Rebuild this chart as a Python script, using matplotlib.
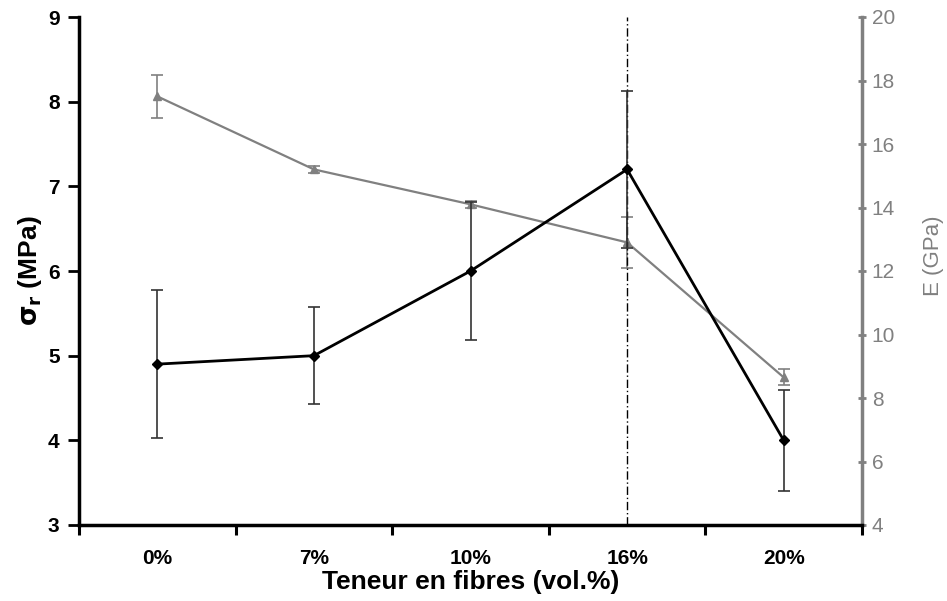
import matplotlib
matplotlib.use("Agg")
import matplotlib.pyplot as plt
import numpy as np

categories = ["0%", "7%", "10%", "16%", "20%"]
sigma = [4.9, 5.0, 6.0, 7.2, 4.0]
sigma_err = [0.87, 0.57, 0.81, 0.93, 0.6]
E = [17.5, 15.2, 14.1, 12.9, 8.65]
E_err = [0.68, 0.1, 0.1, 0.8, 0.25]
vline_cat = 3

plt.rcParams['font.family'] = ['Liberation Sans', 'DejaVu Sans']
gray = '#808080'

fig = plt.figure(figsize=(9.47, 6.01), dpi=100)
ax = fig.add_axes([79/947, 76/601, (862-79)/947, (525-17)/601])
ax2 = ax.twinx()

x = np.arange(len(categories))

ax.axvline(vline_cat, color='black', lw=1.0, ls=(0, (6, 2, 1, 2)), zorder=1)

ax2.errorbar(x, E, yerr=E_err, color=gray, lw=1.6, marker='^', ms=6,
             ecolor=gray, elinewidth=1.2, capsize=4, capthick=1.2, zorder=2)
ax.set_zorder(ax2.get_zorder() + 1)
ax.patch.set_visible(False)
ax.errorbar(x, sigma, yerr=sigma_err, color='black', lw=2.0, marker='D', ms=5.5,
            ecolor='#333333', elinewidth=1.2, capsize=4, capthick=1.2, zorder=3)

ax.set_xlim(-0.5, len(categories) - 0.5)
ax.set_ylim(3, 9)
ax2.set_ylim(4, 20)
ax.set_yticks(range(3, 10))
ax2.set_yticks(range(4, 21, 2))

ax.set_xticks(x)
ax.set_xticklabels(categories, fontsize=15, fontweight='bold')
ax.tick_params(axis='x', which='major', length=0, pad=17)
ax.set_xticks(np.arange(-0.5, len(categories), 1.0), minor=True)
ax.tick_params(axis='x', which='minor', length=7, width=2.2, direction='out')

ax.tick_params(axis='y', length=8, width=2, direction='out', labelsize=15, pad=6)
for lab in ax.get_yticklabels():
    lab.set_fontweight('bold')
ax2.tick_params(axis='y', length=6, width=2, direction='inout', labelsize=15,
                colors=gray, pad=4)

for sp in ['top']:
    ax.spines[sp].set_visible(False)
    ax2.spines[sp].set_visible(False)
ax.spines['right'].set_visible(False)
ax2.spines['left'].set_visible(False)
ax2.spines['bottom'].set_visible(False)
ax.spines['left'].set_linewidth(2.5)
ax.spines['bottom'].set_linewidth(2.5)
ax2.spines['right'].set_linewidth(2.5)
ax2.spines['right'].set_color(gray)

ax.set_xlabel("Teneur en fibres (vol.%)", fontsize=19, fontweight='bold', labelpad=2)
ax.set_ylabel(r"$\mathbf{\sigma_r}$ (MPa)", fontsize=19, fontweight='bold', labelpad=3)
ax2.set_ylabel("E (GPa)", fontsize=16, color=gray, labelpad=20)
ax2.yaxis.label.set_y(0.53)

fig.savefig("out.png", dpi=100)
